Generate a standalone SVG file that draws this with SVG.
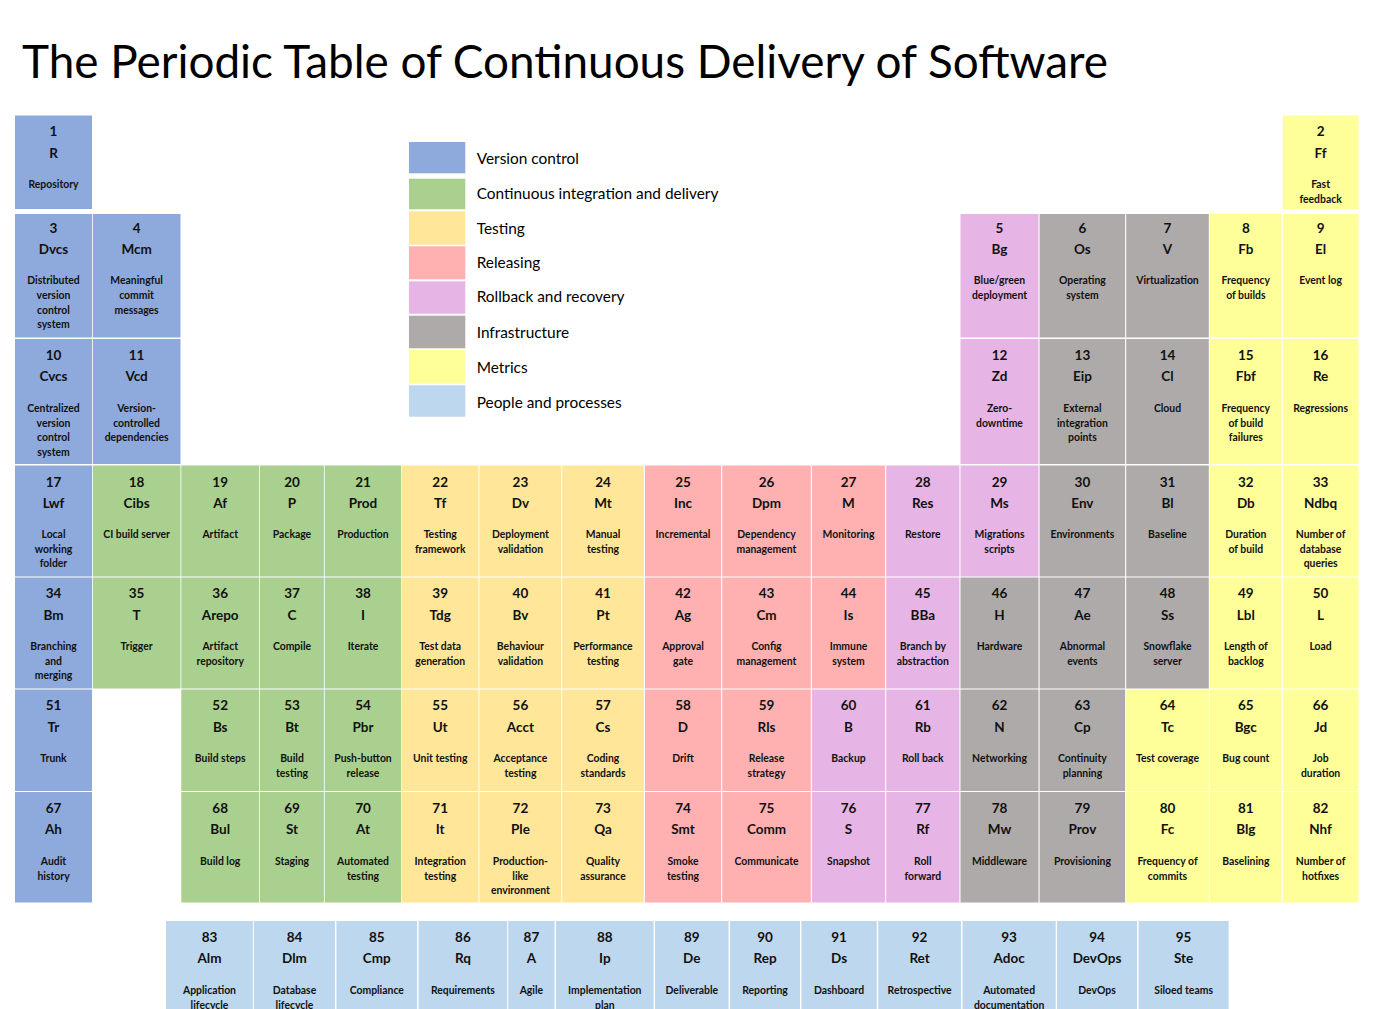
<svg xmlns="http://www.w3.org/2000/svg" width="1399" height="1009" viewBox="0 0 1399 1009">
<style>
.vc{fill:#8EA9DB}.ci{fill:#A9D08E}.ts{fill:#FFE699}.rl{fill:#FFB1B1}.rb{fill:#E6B5E6}.inf{fill:#AEAAAA}.mt{fill:#FFFF99}.pp{fill:#BDD7EE}
text{fill:#111;text-anchor:middle;font-family:Lato,"Open Sans","Liberation Sans",sans-serif;font-weight:bold}
.n{font-size:13.5px}.d{font-size:10.4px}
.title{font-weight:normal;font-size:46px;text-anchor:start;fill:#000}
.lg{font-weight:normal;font-size:15.4px;text-anchor:start;fill:#000}
</style>
<rect width="1399" height="1009" fill="#fff"/>
<text class="title" x="22" y="77.5" textLength="1086" lengthAdjust="spacingAndGlyphs">The Periodic Table of Continuous Delivery of Software</text>
<g id="legend">
<rect class="vc" x="409" y="142" width="56.3" height="31.3"/><text class="lg" x="476.7" y="163.6">Version control</text>
<rect class="ci" x="409" y="178.7" width="56.3" height="30.6"/><text class="lg" x="476.7" y="198.6">Continuous integration and delivery</text>
<rect class="ts" x="409" y="211.3" width="56.3" height="33.4"/><text class="lg" x="476.7" y="233.6">Testing</text>
<rect class="rl" x="409" y="246.3" width="56.3" height="33"/><text class="lg" x="476.7" y="268">Releasing</text>
<rect class="rb" x="409" y="281.3" width="56.3" height="32.4"/><text class="lg" x="476.7" y="302">Rollback and recovery</text>
<rect class="inf" x="409" y="315.7" width="56.3" height="32.6"/><text class="lg" x="476.7" y="338">Infrastructure</text>
<rect class="mt" x="409" y="350" width="56.3" height="33.7"/><text class="lg" x="476.7" y="373">Metrics</text>
<rect class="pp" x="409" y="385.3" width="56.3" height="31.4"/><text class="lg" x="476.7" y="407.6">People and processes</text>
</g>
<g id="row1">
<g id="e1"><rect class="vc" x="15" y="115.5" width="77" height="93.5"/><text class="n" x="53.5" y="136.2">1</text><text class="n" x="53.5" y="157.6">R</text><text class="d" x="53.5" y="187.8">Repository</text></g>
<g id="e2"><rect class="mt" x="1282.8" y="115.5" width="75.6" height="93.5"/><text class="n" x="1320.6" y="136.2">2</text><text class="n" x="1320.6" y="157.6">Ff</text><text class="d" x="1320.6" y="187.8">Fast<tspan x="1320.6" dy="14.7">feedback</tspan></text></g>
</g>
<g id="row2">
<g id="e3"><rect class="vc" x="15" y="214" width="77" height="123.5"/><text class="n" x="53.5" y="232.9">3</text><text class="n" x="53.5" y="253.9">Dvcs</text><text class="d" x="53.5" y="284.1">Distributed<tspan x="53.5" dy="14.7">version</tspan><tspan x="53.5" dy="14.7">control</tspan><tspan x="53.5" dy="14.7">system</tspan></text></g>
<g id="e4"><rect class="vc" x="92.8" y="214" width="87.7" height="123.5"/><text class="n" x="136.6" y="232.9">4</text><text class="n" x="136.6" y="253.9">Mcm</text><text class="d" x="136.6" y="284.1">Meaningful<tspan x="136.6" dy="14.7">commit</tspan><tspan x="136.6" dy="14.7">messages</tspan></text></g>
<g id="e5"><rect class="rb" x="960.5" y="214" width="78" height="123.5"/><text class="n" x="999.5" y="232.9">5</text><text class="n" x="999.5" y="253.9">Bg</text><text class="d" x="999.5" y="284.1">Blue/green<tspan x="999.5" dy="14.7">deployment</tspan></text></g>
<g id="e6"><rect class="inf" x="1039.6" y="214" width="85.5" height="123.5"/><text class="n" x="1082.4" y="232.9">6</text><text class="n" x="1082.4" y="253.9">Os</text><text class="d" x="1082.4" y="284.1">Operating<tspan x="1082.4" dy="14.7">system</tspan></text></g>
<g id="e7"><rect class="inf" x="1126.2" y="214" width="82.6" height="123.5"/><text class="n" x="1167.5" y="232.9">7</text><text class="n" x="1167.5" y="253.9">V</text><text class="d" x="1167.5" y="284.1">Virtualization</text></g>
<g id="e8"><rect class="mt" x="1209.9" y="214" width="71.7" height="123.5"/><text class="n" x="1245.8" y="232.9">8</text><text class="n" x="1245.8" y="253.9">Fb</text><text class="d" x="1245.8" y="284.1">Frequency<tspan x="1245.8" dy="14.7">of builds</tspan></text></g>
<g id="e9"><rect class="mt" x="1282.8" y="214" width="75.6" height="123.5"/><text class="n" x="1320.6" y="232.9">9</text><text class="n" x="1320.6" y="253.9">El</text><text class="d" x="1320.6" y="284.1">Event log</text></g>
</g>
<g id="row3">
<g id="e10"><rect class="vc" x="15" y="339" width="77" height="125"/><text class="n" x="53.5" y="360.2">10</text><text class="n" x="53.5" y="381.2">Cvcs</text><text class="d" x="53.5" y="411.8">Centralized<tspan x="53.5" dy="14.7">version</tspan><tspan x="53.5" dy="14.7">control</tspan><tspan x="53.5" dy="14.7">system</tspan></text></g>
<g id="e11"><rect class="vc" x="92.8" y="339" width="87.7" height="125"/><text class="n" x="136.6" y="360.2">11</text><text class="n" x="136.6" y="381.2">Vcd</text><text class="d" x="136.6" y="411.8">Version-<tspan x="136.6" dy="14.7">controlled</tspan><tspan x="136.6" dy="14.7">dependencies</tspan></text></g>
<g id="e12"><rect class="rb" x="960.5" y="339" width="78" height="125"/><text class="n" x="999.5" y="360.2">12</text><text class="n" x="999.5" y="381.2">Zd</text><text class="d" x="999.5" y="411.8">Zero-<tspan x="999.5" dy="14.7">downtime</tspan></text></g>
<g id="e13"><rect class="inf" x="1039.6" y="339" width="85.5" height="125"/><text class="n" x="1082.4" y="360.2">13</text><text class="n" x="1082.4" y="381.2">Eip</text><text class="d" x="1082.4" y="411.8">External<tspan x="1082.4" dy="14.7">integration</tspan><tspan x="1082.4" dy="14.7">points</tspan></text></g>
<g id="e14"><rect class="inf" x="1126.2" y="339" width="82.6" height="125"/><text class="n" x="1167.5" y="360.2">14</text><text class="n" x="1167.5" y="381.2">Cl</text><text class="d" x="1167.5" y="411.8">Cloud</text></g>
<g id="e15"><rect class="mt" x="1209.9" y="339" width="71.7" height="125"/><text class="n" x="1245.8" y="360.2">15</text><text class="n" x="1245.8" y="381.2">Fbf</text><text class="d" x="1245.8" y="411.8">Frequency<tspan x="1245.8" dy="14.7">of build</tspan><tspan x="1245.8" dy="14.7">failures</tspan></text></g>
<g id="e16"><rect class="mt" x="1282.8" y="339" width="75.6" height="125"/><text class="n" x="1320.6" y="360.2">16</text><text class="n" x="1320.6" y="381.2">Re</text><text class="d" x="1320.6" y="411.8">Regressions</text></g>
</g>
<g id="row4">
<g id="e17"><rect class="vc" x="15" y="465.5" width="77" height="111"/><text class="n" x="53.5" y="486.9">17</text><text class="n" x="53.5" y="507.9">Lwf</text><text class="d" x="53.5" y="537.8">Local<tspan x="53.5" dy="14.7">working</tspan><tspan x="53.5" dy="14.7">folder</tspan></text></g>
<g id="e18"><rect class="ci" x="92.8" y="465.5" width="87.7" height="111"/><text class="n" x="136.6" y="486.9">18</text><text class="n" x="136.6" y="507.9">Cibs</text><text class="d" x="136.6" y="537.8">CI build server</text></g>
<g id="e19"><rect class="ci" x="181.3" y="465.5" width="77.9" height="111"/><text class="n" x="220.2" y="486.9">19</text><text class="n" x="220.2" y="507.9">Af</text><text class="d" x="220.2" y="537.8">Artifact</text></g>
<g id="e20"><rect class="ci" x="260" y="465.5" width="63.9" height="111"/><text class="n" x="292" y="486.9">20</text><text class="n" x="292" y="507.9">P</text><text class="d" x="292" y="537.8">Package</text></g>
<g id="e21"><rect class="ci" x="324.7" y="465.5" width="76.5" height="111"/><text class="n" x="363" y="486.9">21</text><text class="n" x="363" y="507.9">Prod</text><text class="d" x="363" y="537.8">Production</text></g>
<g id="e22"><rect class="ts" x="402" y="465.5" width="76.5" height="111"/><text class="n" x="440.2" y="486.9">22</text><text class="n" x="440.2" y="507.9">Tf</text><text class="d" x="440.2" y="537.8">Testing<tspan x="440.2" dy="14.7">framework</tspan></text></g>
<g id="e23"><rect class="ts" x="479.5" y="465.5" width="81.7" height="111"/><text class="n" x="520.4" y="486.9">23</text><text class="n" x="520.4" y="507.9">Dv</text><text class="d" x="520.4" y="537.8">Deployment<tspan x="520.4" dy="14.7">validation</tspan></text></g>
<g id="e24"><rect class="ts" x="562.2" y="465.5" width="81.6" height="111"/><text class="n" x="603" y="486.9">24</text><text class="n" x="603" y="507.9">Mt</text><text class="d" x="603" y="537.8">Manual<tspan x="603" dy="14.7">testing</tspan></text></g>
<g id="e25"><rect class="rl" x="644.9" y="465.5" width="76.2" height="111"/><text class="n" x="683" y="486.9">25</text><text class="n" x="683" y="507.9">Inc</text><text class="d" x="683" y="537.8">Incremental</text></g>
<g id="e26"><rect class="rl" x="722.2" y="465.5" width="88.6" height="111"/><text class="n" x="766.5" y="486.9">26</text><text class="n" x="766.5" y="507.9">Dpm</text><text class="d" x="766.5" y="537.8">Dependency<tspan x="766.5" dy="14.7">management</tspan></text></g>
<g id="e27"><rect class="rl" x="811.9" y="465.5" width="73.2" height="111"/><text class="n" x="848.5" y="486.9">27</text><text class="n" x="848.5" y="507.9">M</text><text class="d" x="848.5" y="537.8">Monitoring</text></g>
<g id="e28"><rect class="rb" x="886.2" y="465.5" width="73.2" height="111"/><text class="n" x="922.8" y="486.9">28</text><text class="n" x="922.8" y="507.9">Res</text><text class="d" x="922.8" y="537.8">Restore</text></g>
<g id="e29"><rect class="rb" x="960.5" y="465.5" width="78" height="111"/><text class="n" x="999.5" y="486.9">29</text><text class="n" x="999.5" y="507.9">Ms</text><text class="d" x="999.5" y="537.8">Migrations<tspan x="999.5" dy="14.7">scripts</tspan></text></g>
<g id="e30"><rect class="inf" x="1039.6" y="465.5" width="85.5" height="111"/><text class="n" x="1082.4" y="486.9">30</text><text class="n" x="1082.4" y="507.9">Env</text><text class="d" x="1082.4" y="537.8">Environments</text></g>
<g id="e31"><rect class="inf" x="1126.2" y="465.5" width="82.6" height="111"/><text class="n" x="1167.5" y="486.9">31</text><text class="n" x="1167.5" y="507.9">Bl</text><text class="d" x="1167.5" y="537.8">Baseline</text></g>
<g id="e32"><rect class="mt" x="1209.9" y="465.5" width="71.7" height="111"/><text class="n" x="1245.8" y="486.9">32</text><text class="n" x="1245.8" y="507.9">Db</text><text class="d" x="1245.8" y="537.8">Duration<tspan x="1245.8" dy="14.7">of build</tspan></text></g>
<g id="e33"><rect class="mt" x="1282.8" y="465.5" width="75.6" height="111"/><text class="n" x="1320.6" y="486.9">33</text><text class="n" x="1320.6" y="507.9">Ndbq</text><text class="d" x="1320.6" y="537.8">Number of<tspan x="1320.6" dy="14.7">database</tspan><tspan x="1320.6" dy="14.7">queries</tspan></text></g>
</g>
<g id="row5">
<g id="e34"><rect class="vc" x="15" y="577.5" width="77" height="111"/><text class="n" x="53.5" y="598.2">34</text><text class="n" x="53.5" y="619.9">Bm</text><text class="d" x="53.5" y="649.8">Branching<tspan x="53.5" dy="14.7">and</tspan><tspan x="53.5" dy="14.7">merging</tspan></text></g>
<g id="e35"><rect class="ci" x="92.8" y="577.5" width="87.7" height="111"/><text class="n" x="136.6" y="598.2">35</text><text class="n" x="136.6" y="619.9">T</text><text class="d" x="136.6" y="649.8">Trigger</text></g>
<g id="e36"><rect class="ci" x="181.3" y="577.5" width="77.9" height="111"/><text class="n" x="220.2" y="598.2">36</text><text class="n" x="220.2" y="619.9">Arepo</text><text class="d" x="220.2" y="649.8">Artifact<tspan x="220.2" dy="14.7">repository</tspan></text></g>
<g id="e37"><rect class="ci" x="260" y="577.5" width="63.9" height="111"/><text class="n" x="292" y="598.2">37</text><text class="n" x="292" y="619.9">C</text><text class="d" x="292" y="649.8">Compile</text></g>
<g id="e38"><rect class="ci" x="324.7" y="577.5" width="76.5" height="111"/><text class="n" x="363" y="598.2">38</text><text class="n" x="363" y="619.9">I</text><text class="d" x="363" y="649.8">Iterate</text></g>
<g id="e39"><rect class="ts" x="402" y="577.5" width="76.5" height="111"/><text class="n" x="440.2" y="598.2">39</text><text class="n" x="440.2" y="619.9">Tdg</text><text class="d" x="440.2" y="649.8">Test data<tspan x="440.2" dy="14.7">generation</tspan></text></g>
<g id="e40"><rect class="ts" x="479.5" y="577.5" width="81.7" height="111"/><text class="n" x="520.4" y="598.2">40</text><text class="n" x="520.4" y="619.9">Bv</text><text class="d" x="520.4" y="649.8">Behaviour<tspan x="520.4" dy="14.7">validation</tspan></text></g>
<g id="e41"><rect class="ts" x="562.2" y="577.5" width="81.6" height="111"/><text class="n" x="603" y="598.2">41</text><text class="n" x="603" y="619.9">Pt</text><text class="d" x="603" y="649.8">Performance<tspan x="603" dy="14.7">testing</tspan></text></g>
<g id="e42"><rect class="rl" x="644.9" y="577.5" width="76.2" height="111"/><text class="n" x="683" y="598.2">42</text><text class="n" x="683" y="619.9">Ag</text><text class="d" x="683" y="649.8">Approval<tspan x="683" dy="14.7">gate</tspan></text></g>
<g id="e43"><rect class="rl" x="722.2" y="577.5" width="88.6" height="111"/><text class="n" x="766.5" y="598.2">43</text><text class="n" x="766.5" y="619.9">Cm</text><text class="d" x="766.5" y="649.8">Config<tspan x="766.5" dy="14.7">management</tspan></text></g>
<g id="e44"><rect class="rl" x="811.9" y="577.5" width="73.2" height="111"/><text class="n" x="848.5" y="598.2">44</text><text class="n" x="848.5" y="619.9">Is</text><text class="d" x="848.5" y="649.8">Immune<tspan x="848.5" dy="14.7">system</tspan></text></g>
<g id="e45"><rect class="rb" x="886.2" y="577.5" width="73.2" height="111"/><text class="n" x="922.8" y="598.2">45</text><text class="n" x="922.8" y="619.9">BBa</text><text class="d" x="922.8" y="649.8">Branch by<tspan x="922.8" dy="14.7">abstraction</tspan></text></g>
<g id="e46"><rect class="inf" x="960.5" y="577.5" width="78" height="111"/><text class="n" x="999.5" y="598.2">46</text><text class="n" x="999.5" y="619.9">H</text><text class="d" x="999.5" y="649.8">Hardware</text></g>
<g id="e47"><rect class="inf" x="1039.6" y="577.5" width="85.5" height="111"/><text class="n" x="1082.4" y="598.2">47</text><text class="n" x="1082.4" y="619.9">Ae</text><text class="d" x="1082.4" y="649.8">Abnormal<tspan x="1082.4" dy="14.7">events</tspan></text></g>
<g id="e48"><rect class="inf" x="1126.2" y="577.5" width="82.6" height="111"/><text class="n" x="1167.5" y="598.2">48</text><text class="n" x="1167.5" y="619.9">Ss</text><text class="d" x="1167.5" y="649.8">Snowflake<tspan x="1167.5" dy="14.7">server</tspan></text></g>
<g id="e49"><rect class="mt" x="1209.9" y="577.5" width="71.7" height="111"/><text class="n" x="1245.8" y="598.2">49</text><text class="n" x="1245.8" y="619.9">Lbl</text><text class="d" x="1245.8" y="649.8">Length of<tspan x="1245.8" dy="14.7">backlog</tspan></text></g>
<g id="e50"><rect class="mt" x="1282.8" y="577.5" width="75.6" height="111"/><text class="n" x="1320.6" y="598.2">50</text><text class="n" x="1320.6" y="619.9">L</text><text class="d" x="1320.6" y="649.8">Load</text></g>
</g>
<g id="row6">
<g id="e51"><rect class="vc" x="15" y="689.5" width="77" height="101.5"/><text class="n" x="53.5" y="710.2">51</text><text class="n" x="53.5" y="731.6">Tr</text><text class="d" x="53.5" y="761.8">Trunk</text></g>
<g id="e52"><rect class="ci" x="181.3" y="689.5" width="77.9" height="101.5"/><text class="n" x="220.2" y="710.2">52</text><text class="n" x="220.2" y="731.6">Bs</text><text class="d" x="220.2" y="761.8">Build steps</text></g>
<g id="e53"><rect class="ci" x="260" y="689.5" width="63.9" height="101.5"/><text class="n" x="292" y="710.2">53</text><text class="n" x="292" y="731.6">Bt</text><text class="d" x="292" y="761.8">Build<tspan x="292" dy="14.7">testing</tspan></text></g>
<g id="e54"><rect class="ci" x="324.7" y="689.5" width="76.5" height="101.5"/><text class="n" x="363" y="710.2">54</text><text class="n" x="363" y="731.6">Pbr</text><text class="d" x="363" y="761.8">Push-button<tspan x="363" dy="14.7">release</tspan></text></g>
<g id="e55"><rect class="ts" x="402" y="689.5" width="76.5" height="101.5"/><text class="n" x="440.2" y="710.2">55</text><text class="n" x="440.2" y="731.6">Ut</text><text class="d" x="440.2" y="761.8">Unit testing</text></g>
<g id="e56"><rect class="ts" x="479.5" y="689.5" width="81.7" height="101.5"/><text class="n" x="520.4" y="710.2">56</text><text class="n" x="520.4" y="731.6">Acct</text><text class="d" x="520.4" y="761.8">Acceptance<tspan x="520.4" dy="14.7">testing</tspan></text></g>
<g id="e57"><rect class="ts" x="562.2" y="689.5" width="81.6" height="101.5"/><text class="n" x="603" y="710.2">57</text><text class="n" x="603" y="731.6">Cs</text><text class="d" x="603" y="761.8">Coding<tspan x="603" dy="14.7">standards</tspan></text></g>
<g id="e58"><rect class="rl" x="644.9" y="689.5" width="76.2" height="101.5"/><text class="n" x="683" y="710.2">58</text><text class="n" x="683" y="731.6">D</text><text class="d" x="683" y="761.8">Drift</text></g>
<g id="e59"><rect class="rl" x="722.2" y="689.5" width="88.6" height="101.5"/><text class="n" x="766.5" y="710.2">59</text><text class="n" x="766.5" y="731.6">Rls</text><text class="d" x="766.5" y="761.8">Release<tspan x="766.5" dy="14.7">strategy</tspan></text></g>
<g id="e60"><rect class="rb" x="811.9" y="689.5" width="73.2" height="101.5"/><text class="n" x="848.5" y="710.2">60</text><text class="n" x="848.5" y="731.6">B</text><text class="d" x="848.5" y="761.8">Backup</text></g>
<g id="e61"><rect class="rb" x="886.2" y="689.5" width="73.2" height="101.5"/><text class="n" x="922.8" y="710.2">61</text><text class="n" x="922.8" y="731.6">Rb</text><text class="d" x="922.8" y="761.8">Roll back</text></g>
<g id="e62"><rect class="inf" x="960.5" y="689.5" width="78" height="101.5"/><text class="n" x="999.5" y="710.2">62</text><text class="n" x="999.5" y="731.6">N</text><text class="d" x="999.5" y="761.8">Networking</text></g>
<g id="e63"><rect class="inf" x="1039.6" y="689.5" width="85.5" height="101.5"/><text class="n" x="1082.4" y="710.2">63</text><text class="n" x="1082.4" y="731.6">Cp</text><text class="d" x="1082.4" y="761.8">Continuity<tspan x="1082.4" dy="14.7">planning</tspan></text></g>
<g id="e64"><rect class="mt" x="1126.2" y="689.5" width="82.6" height="101.5"/><text class="n" x="1167.5" y="710.2">64</text><text class="n" x="1167.5" y="731.6">Tc</text><text class="d" x="1167.5" y="761.8">Test coverage</text></g>
<g id="e65"><rect class="mt" x="1209.9" y="689.5" width="71.7" height="101.5"/><text class="n" x="1245.8" y="710.2">65</text><text class="n" x="1245.8" y="731.6">Bgc</text><text class="d" x="1245.8" y="761.8">Bug count</text></g>
<g id="e66"><rect class="mt" x="1282.8" y="689.5" width="75.6" height="101.5"/><text class="n" x="1320.6" y="710.2">66</text><text class="n" x="1320.6" y="731.6">Jd</text><text class="d" x="1320.6" y="761.8">Job<tspan x="1320.6" dy="14.7">duration</tspan></text></g>
</g>
<g id="row7">
<g id="e67"><rect class="vc" x="15" y="792" width="77" height="110.5"/><text class="n" x="53.5" y="812.9">67</text><text class="n" x="53.5" y="833.9">Ah</text><text class="d" x="53.5" y="864.8">Audit<tspan x="53.5" dy="14.7">history</tspan></text></g>
<g id="e68"><rect class="ci" x="181.3" y="792" width="77.9" height="110.5"/><text class="n" x="220.2" y="812.9">68</text><text class="n" x="220.2" y="833.9">Bul</text><text class="d" x="220.2" y="864.8">Build log</text></g>
<g id="e69"><rect class="ci" x="260" y="792" width="63.9" height="110.5"/><text class="n" x="292" y="812.9">69</text><text class="n" x="292" y="833.9">St</text><text class="d" x="292" y="864.8">Staging</text></g>
<g id="e70"><rect class="ci" x="324.7" y="792" width="76.5" height="110.5"/><text class="n" x="363" y="812.9">70</text><text class="n" x="363" y="833.9">At</text><text class="d" x="363" y="864.8">Automated<tspan x="363" dy="14.7">testing</tspan></text></g>
<g id="e71"><rect class="ts" x="402" y="792" width="76.5" height="110.5"/><text class="n" x="440.2" y="812.9">71</text><text class="n" x="440.2" y="833.9">It</text><text class="d" x="440.2" y="864.8">Integration<tspan x="440.2" dy="14.7">testing</tspan></text></g>
<g id="e72"><rect class="ts" x="479.5" y="792" width="81.7" height="110.5"/><text class="n" x="520.4" y="812.9">72</text><text class="n" x="520.4" y="833.9">Ple</text><text class="d" x="520.4" y="864.8">Production-<tspan x="520.4" dy="14.7">like</tspan><tspan x="520.4" dy="14.7">environment</tspan></text></g>
<g id="e73"><rect class="ts" x="562.2" y="792" width="81.6" height="110.5"/><text class="n" x="603" y="812.9">73</text><text class="n" x="603" y="833.9">Qa</text><text class="d" x="603" y="864.8">Quality<tspan x="603" dy="14.7">assurance</tspan></text></g>
<g id="e74"><rect class="rl" x="644.9" y="792" width="76.2" height="110.5"/><text class="n" x="683" y="812.9">74</text><text class="n" x="683" y="833.9">Smt</text><text class="d" x="683" y="864.8">Smoke<tspan x="683" dy="14.7">testing</tspan></text></g>
<g id="e75"><rect class="rl" x="722.2" y="792" width="88.6" height="110.5"/><text class="n" x="766.5" y="812.9">75</text><text class="n" x="766.5" y="833.9">Comm</text><text class="d" x="766.5" y="864.8">Communicate</text></g>
<g id="e76"><rect class="rb" x="811.9" y="792" width="73.2" height="110.5"/><text class="n" x="848.5" y="812.9">76</text><text class="n" x="848.5" y="833.9">S</text><text class="d" x="848.5" y="864.8">Snapshot</text></g>
<g id="e77"><rect class="rb" x="886.2" y="792" width="73.2" height="110.5"/><text class="n" x="922.8" y="812.9">77</text><text class="n" x="922.8" y="833.9">Rf</text><text class="d" x="922.8" y="864.8">Roll<tspan x="922.8" dy="14.7">forward</tspan></text></g>
<g id="e78"><rect class="inf" x="960.5" y="792" width="78" height="110.5"/><text class="n" x="999.5" y="812.9">78</text><text class="n" x="999.5" y="833.9">Mw</text><text class="d" x="999.5" y="864.8">Middleware</text></g>
<g id="e79"><rect class="inf" x="1039.6" y="792" width="85.5" height="110.5"/><text class="n" x="1082.4" y="812.9">79</text><text class="n" x="1082.4" y="833.9">Prov</text><text class="d" x="1082.4" y="864.8">Provisioning</text></g>
<g id="e80"><rect class="mt" x="1126.2" y="792" width="82.6" height="110.5"/><text class="n" x="1167.5" y="812.9">80</text><text class="n" x="1167.5" y="833.9">Fc</text><text class="d" x="1167.5" y="864.8">Frequency of<tspan x="1167.5" dy="14.7">commits</tspan></text></g>
<g id="e81"><rect class="mt" x="1209.9" y="792" width="71.7" height="110.5"/><text class="n" x="1245.8" y="812.9">81</text><text class="n" x="1245.8" y="833.9">Blg</text><text class="d" x="1245.8" y="864.8">Baselining</text></g>
<g id="e82"><rect class="mt" x="1282.8" y="792" width="75.6" height="110.5"/><text class="n" x="1320.6" y="812.9">82</text><text class="n" x="1320.6" y="833.9">Nhf</text><text class="d" x="1320.6" y="864.8">Number of<tspan x="1320.6" dy="14.7">hotfixes</tspan></text></g>
</g>
<g id="row8">
<g id="e83"><rect class="pp" x="166" y="921" width="86.9" height="90"/><text class="n" x="209.5" y="941.9">83</text><text class="n" x="209.5" y="962.9">Alm</text><text class="d" x="209.5" y="993.8">Application<tspan x="209.5" dy="14.7">lifecycle</tspan></text></g>
<g id="e84"><rect class="pp" x="253.9" y="921" width="81.1" height="90"/><text class="n" x="294.5" y="941.9">84</text><text class="n" x="294.5" y="962.9">Dlm</text><text class="d" x="294.5" y="993.8">Database<tspan x="294.5" dy="14.7">lifecycle</tspan></text></g>
<g id="e85"><rect class="pp" x="336.4" y="921" width="80.7" height="90"/><text class="n" x="376.8" y="941.9">85</text><text class="n" x="376.8" y="962.9">Cmp</text><text class="d" x="376.8" y="993.8">Compliance</text></g>
<g id="e86"><rect class="pp" x="418.6" y="921" width="88.5" height="90"/><text class="n" x="462.9" y="941.9">86</text><text class="n" x="462.9" y="962.9">Rq</text><text class="d" x="462.9" y="993.8">Requirements</text></g>
<g id="e87"><rect class="pp" x="508.2" y="921" width="46.4" height="90"/><text class="n" x="531.4" y="941.9">87</text><text class="n" x="531.4" y="962.9">A</text><text class="d" x="531.4" y="993.8">Agile</text></g>
<g id="e88"><rect class="pp" x="556" y="921" width="97.6" height="90"/><text class="n" x="604.8" y="941.9">88</text><text class="n" x="604.8" y="962.9">Ip</text><text class="d" x="604.8" y="993.8">Implementation<tspan x="604.8" dy="14.7">plan</tspan></text></g>
<g id="e89"><rect class="pp" x="655" y="921" width="73.6" height="90"/><text class="n" x="691.8" y="941.9">89</text><text class="n" x="691.8" y="962.9">De</text><text class="d" x="691.8" y="993.8">Deliverable</text></g>
<g id="e90"><rect class="pp" x="730" y="921" width="70" height="90"/><text class="n" x="765" y="941.9">90</text><text class="n" x="765" y="962.9">Rep</text><text class="d" x="765" y="993.8">Reporting</text></g>
<g id="e91"><rect class="pp" x="801.4" y="921" width="75.4" height="90"/><text class="n" x="839.1" y="941.9">91</text><text class="n" x="839.1" y="962.9">Ds</text><text class="d" x="839.1" y="993.8">Dashboard</text></g>
<g id="e92"><rect class="pp" x="878.2" y="921" width="82.8" height="90"/><text class="n" x="919.6" y="941.9">92</text><text class="n" x="919.6" y="962.9">Ret</text><text class="d" x="919.6" y="993.8">Retrospective</text></g>
<g id="e93"><rect class="pp" x="962.5" y="921" width="93.2" height="90"/><text class="n" x="1009.1" y="941.9">93</text><text class="n" x="1009.1" y="962.9">Adoc</text><text class="d" x="1009.1" y="993.8">Automated<tspan x="1009.1" dy="14.7">documentation</tspan></text></g>
<g id="e94"><rect class="pp" x="1057" y="921" width="80" height="90"/><text class="n" x="1097" y="941.9">94</text><text class="n" x="1097" y="962.9">DevOps</text><text class="d" x="1097" y="993.8">DevOps</text></g>
<g id="e95"><rect class="pp" x="1138.6" y="921" width="90" height="90"/><text class="n" x="1183.6" y="941.9">95</text><text class="n" x="1183.6" y="962.9">Ste</text><text class="d" x="1183.6" y="993.8">Siloed teams</text></g>
</g>
<g id="connectors"/>
</svg>
